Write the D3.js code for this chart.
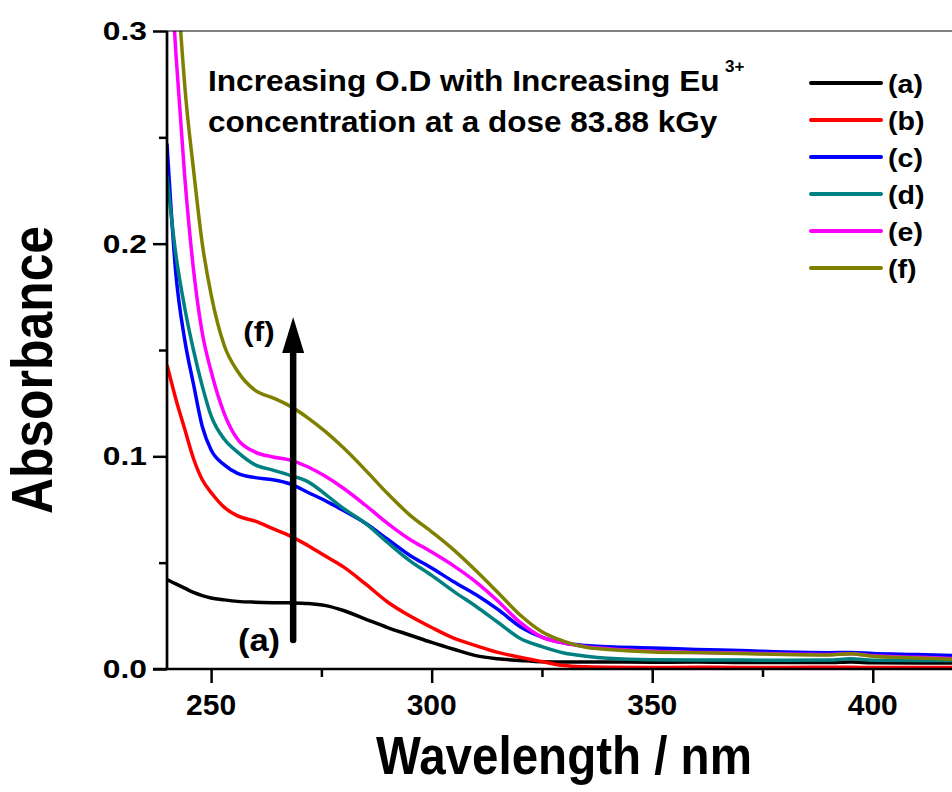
<!DOCTYPE html>
<html>
<head>
<meta charset="utf-8">
<script src="https://cdnjs.cloudflare.com/ajax/libs/d3/7.8.5/d3.min.js"></script>
<style>
  body { margin: 0; background: #fff; }
  text { font-family: "Liberation Sans", Arial, sans-serif; font-weight: bold; fill: #000; }
</style>
</head>
<body>
<div id="chart"></div>
<script>
// data
var wavelength = [240, 242, 244, 246, 248, 250, 253, 256, 260, 264, 268, 272, 276, 280, 285, 290, 295, 300, 305, 310, 315, 320, 325, 330, 335, 340, 350, 360, 370, 380, 390, 395, 400, 410, 420];

var seriesA = [0.042, 0.040, 0.038, 0.036, 0.0345, 0.0334, 0.0325, 0.0318, 0.0314, 0.0312, 0.0311, 0.0308, 0.0298, 0.0275, 0.0235, 0.0195, 0.016, 0.0125, 0.0093, 0.0063, 0.0048, 0.0040, 0.0034, 0.0033, 0.0033, 0.0033, 0.0032, 0.0033, 0.0031, 0.0030, 0.0030, 0.0033, 0.0029, 0.0028, 0.0028];
var seriesB = [0.143, 0.127, 0.113, 0.099, 0.089, 0.083, 0.076, 0.072, 0.0695, 0.066, 0.0625, 0.058, 0.053, 0.048, 0.040, 0.0315, 0.025, 0.0195, 0.0145, 0.011, 0.0078, 0.0055, 0.0035, 0.0016, 0.0010, 0.0008, 0.0007, 0.0008, 0.0007, 0.0007, 0.0008, 0.0008, 0.0007, 0.0007, 0.0007];
var seriesC = [0.247, 0.186, 0.155, 0.134, 0.114, 0.103, 0.096, 0.092, 0.090, 0.089, 0.087, 0.083, 0.079, 0.0745, 0.0685, 0.061, 0.0535, 0.0475, 0.041, 0.035, 0.028, 0.020, 0.015, 0.0122, 0.011, 0.0105, 0.0099, 0.0092, 0.0087, 0.0080, 0.0077, 0.0078, 0.0073, 0.0068, 0.0062];
var seriesD = [0.232, 0.195, 0.170, 0.150, 0.133, 0.119, 0.108, 0.102, 0.096, 0.0935, 0.091, 0.088, 0.082, 0.0755, 0.0685, 0.0595, 0.051, 0.044, 0.0365, 0.0295, 0.022, 0.0145, 0.0105, 0.0075, 0.006, 0.005, 0.0043, 0.0042, 0.0042, 0.0041, 0.0042, 0.0048, 0.0041, 0.0040, 0.0040];
var seriesE = [0.36, 0.29, 0.232, 0.188, 0.158, 0.140, 0.120, 0.108, 0.102, 0.0997, 0.0982, 0.095, 0.0905, 0.085, 0.077, 0.0685, 0.061, 0.055, 0.0485, 0.041, 0.032, 0.022, 0.015, 0.0122, 0.0105, 0.0095, 0.0083, 0.0078, 0.0075, 0.0070, 0.0068, 0.0072, 0.0062, 0.0055, 0.0048];
var seriesF = [0.46, 0.34, 0.275, 0.235, 0.200, 0.176, 0.152, 0.140, 0.131, 0.1275, 0.1235, 0.118, 0.1115, 0.104, 0.0935, 0.0825, 0.0725, 0.0645, 0.056, 0.0463, 0.036, 0.0255, 0.0175, 0.013, 0.0102, 0.0092, 0.008, 0.0077, 0.0073, 0.0068, 0.0066, 0.0072, 0.006, 0.0052, 0.0044];

var seriesNames = ["(a)", "(b)", "(c)", "(d)", "(e)", "(f)"];
var seriesColors = ["#000000", "#ff0000", "#0000ff", "#008080", "#ff00ff", "#808000"];
var seriesValues = [seriesA, seriesB, seriesC, seriesD, seriesE, seriesF];

var xMajorTicks = [250, 300, 350, 400];
var xMinorTicks = [275, 325, 375];
var yMajorTicks = [0.0, 0.1, 0.2, 0.3];
var yMinorTicks = [0.05, 0.15, 0.25];

// svg and plot box
var W = 952, H = 792;
var plot = { left: 167, top: 31, bottom: 669, right: 961 };

var svg = d3.select("#chart").append("svg")
  .attr("width", W)
  .attr("height", H);

var x = d3.scaleLinear().domain([240, 420]).range([plot.left, plot.right]);
var y = d3.scaleLinear().domain([0, 0.3]).range([plot.bottom, plot.top]);

svg.append("clipPath").attr("id", "clip")
  .append("rect")
  .attr("x", plot.left).attr("y", plot.top)
  .attr("width", plot.right - plot.left).attr("height", plot.bottom - plot.top);

// text helper: font size sets height, sx stretches along the text
function label(str, px, py, size, sx, anchor, rotate) {
  var t = "translate(" + px + "," + py + ")" + (rotate ? " rotate(" + rotate + ")" : "") + " scale(" + sx + ",1)";
  return svg.append("text")
    .attr("transform", t)
    .attr("text-anchor", anchor || "start")
    .style("font-size", size + "px")
    .text(str);
}

// curves
var line = d3.line()
  .x(function(d) { return x(d[0]); })
  .y(function(d) { return y(d[1]); })
  .curve(d3.curveMonotoneX);

var curves = svg.append("g").attr("clip-path", "url(#clip)");
seriesValues.forEach(function(vals, i) {
  curves.append("path")
    .datum(wavelength.map(function(w, j) { return [w, vals[j]]; }))
    .attr("fill", "none")
    .attr("stroke", seriesColors[i])
    .attr("stroke-width", 3.5)
    .attr("stroke-linejoin", "round")
    .attr("d", line);
});

// axes
var xAxis = d3.axisBottom(x).tickValues(xMajorTicks).tickSize(14).tickFormat(d3.format("d"));
var xAxisMinor = d3.axisBottom(x).tickValues(xMinorTicks).tickSize(8).tickFormat("");
var yAxis = d3.axisLeft(y).tickValues(yMajorTicks).tickSize(14).tickFormat(d3.format(".1f"));
var yAxisMinor = d3.axisLeft(y).tickValues(yMinorTicks).tickSize(8).tickFormat("");

function styleAxis(g) {
  g.select(".domain").remove();
  g.selectAll(".tick line").attr("stroke", "#000").attr("stroke-width", 2.5);
  g.selectAll(".tick text").remove();
}

svg.append("g").attr("transform", "translate(0," + plot.bottom + ")").call(xAxis).call(styleAxis);
svg.append("g").attr("transform", "translate(0," + plot.bottom + ")").call(xAxisMinor).call(styleAxis);
svg.append("g").attr("transform", "translate(" + plot.left + ",0)").call(yAxis).call(styleAxis);
svg.append("g").attr("transform", "translate(" + plot.left + ",0)").call(yAxisMinor).call(styleAxis);

// axis lines
svg.append("line")
  .attr("x1", plot.left - 14).attr("x2", W)
  .attr("y1", plot.bottom).attr("y2", plot.bottom)
  .attr("stroke", "#000").attr("stroke-width", 2.7);
svg.append("line")
  .attr("x1", plot.left).attr("x2", plot.left)
  .attr("y1", plot.top).attr("y2", plot.bottom)
  .attr("stroke", "#000").attr("stroke-width", 2.7);
svg.append("line")
  .attr("x1", plot.left).attr("x2", W)
  .attr("y1", plot.top).attr("y2", plot.top)
  .attr("stroke", "#000").attr("stroke-width", 1.2);

// tick labels
xMajorTicks.forEach(function(d) {
  label(d3.format("d")(d), x(d), 715, 30, 1.0, "middle");
});
yMajorTicks.forEach(function(d) {
  label(d3.format(".1f")(d), 147, y(d) + 9, 25, 1.27, "end");
});

// axis titles
label("Wavelength / nm", 564, 774, 54, 0.88, "middle");
label("Absorbance", 52, 370, 58, 0.86, "middle", -90);

// note text
label("Increasing O.D with Increasing Eu", 208, 91, 30, 1.055, "start");
label("3+", 725, 72, 17, 1.0, "start");
label("concentration at a dose 83.88 kGy", 208, 132, 30, 1.05, "start");

// arrow
var arrowW = 268.6, arrowFrom = 0.0136, arrowTip = 0.1655;
svg.append("line")
  .attr("x1", x(arrowW)).attr("x2", x(arrowW))
  .attr("y1", y(arrowFrom)).attr("y2", y(arrowTip) + 30)
  .attr("stroke", "#000").attr("stroke-width", 6.5)
  .attr("stroke-linecap", "round");
svg.append("path")
  .attr("d", "M" + x(arrowW) + "," + y(arrowTip) +
    " L" + (x(arrowW) + 11) + "," + (y(arrowTip) + 36) +
    " L" + (x(arrowW) - 11) + "," + (y(arrowTip) + 36) + " Z")
  .attr("fill", "#000");
label("(f)", 259, 341, 28, 1.12, "middle");
label("(a)", 259, 651, 32, 1.08, "middle");

// legend
var legendY = [83, 120, 157, 194, 231, 268];
seriesNames.forEach(function(name, i) {
  svg.append("line")
    .attr("x1", 811).attr("x2", 881)
    .attr("y1", legendY[i]).attr("y2", legendY[i])
    .attr("stroke", seriesColors[i]).attr("stroke-width", 4)
    .attr("stroke-linecap", "round");
  label(name, 888, legendY[i] + 10, 26, 1.1, "start");
});
</script>
</body>
</html>
